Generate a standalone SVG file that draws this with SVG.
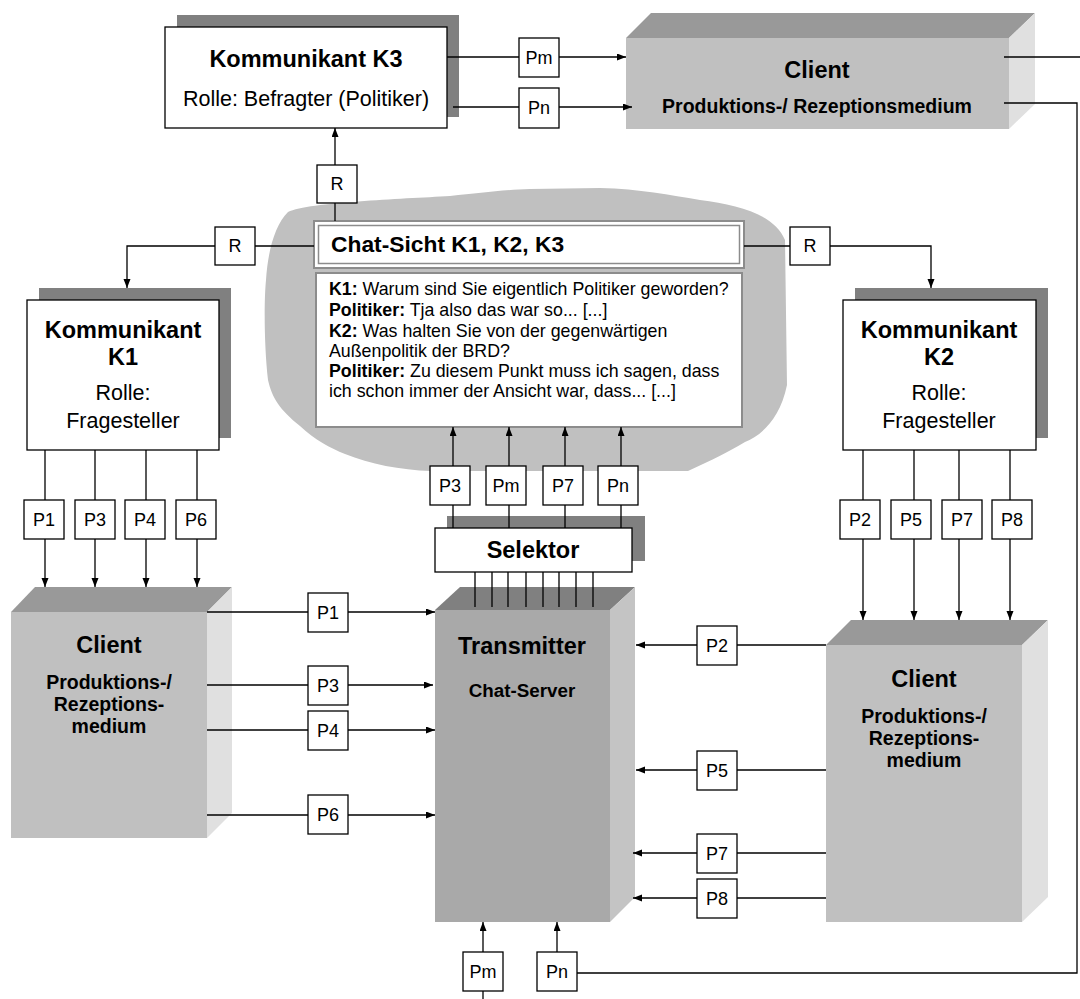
<svg xmlns="http://www.w3.org/2000/svg" width="1080" height="999" viewBox="0 0 1080 999">
<defs>
<marker id="ah" markerUnits="userSpaceOnUse" markerWidth="10" markerHeight="8" refX="9" refY="3.5" orient="auto">
<path d="M0,0 L9,3.5 L0,7 z" fill="#000"/>
</marker>
<style>
text{font-family:"Liberation Sans",Arial,sans-serif;fill:#000}
.box{fill:#fff;stroke:#000;stroke-width:1.3}
.shadow{fill:#808080}
.ln{stroke:#000;stroke-width:1.3;fill:none}
.arr{marker-end:url(#ah)}
.tb{font-size:23.5px;font-weight:bold;text-anchor:middle}
.tr{font-size:21.5px;text-anchor:middle}
.ts{font-size:19.5px;font-weight:bold;text-anchor:middle}
.tp{font-size:18px;text-anchor:middle}
.tc{font-size:17.8px}
.cfront{fill:#c0c0c0}.ctop{fill:#999999}.cside{fill:#e0e0e0}
.tfront{fill:#a9a9a9}.ttop{fill:#808080}.tside{fill:#c4c4c4}
</style>
</defs>
<rect width="1080" height="999" fill="#fff"/>

<g id="cloud">
<path d="M288,212 C310,202 400,199 450,196 C480,193 500,190 530,189 L600,188 C640,189 670,195 700,200 C740,205 775,215 785,240 L787,385 C780,420 760,436 745,442 C728,452 712,460 688,471 L431,471 C400,470 370,464 345,454 C330,448 315,440 300,426 C280,410 272,398 268,380 C264,345 264,300 266,280 C268,250 275,225 288,212 Z" fill="#c0c0c0"/>
</g>

<g id="K3">
<rect class="shadow" x="177" y="15" width="282" height="102"/>
<rect class="box" x="165" y="27" width="282" height="101"/>
<text class="tb" x="306" y="67">Kommunikant K3</text>
<text class="tr" x="306" y="106">Rolle: Befragter (Politiker)</text>
</g>

<g id="clientTop">
<polygon class="ctop" points="626,38 651,13 1035,13 1009,38"/>
<polygon class="cside" points="1009,38 1035,13 1035,104 1009,129"/>
<rect class="cfront" x="626" y="38" width="383" height="91"/>
<text class="tb" x="817" y="78">Client</text>
<text class="ts" x="817" y="113">Produktions-/ Rezeptionsmedium</text>
</g>

<g id="chatTitle">
<rect x="314" y="221" width="430" height="47" fill="#fff" stroke="#8c8c8c" stroke-width="2"/>
<rect x="318.5" y="225.5" width="421" height="38" fill="none" stroke="#8c8c8c" stroke-width="1.5"/>
<text x="331" y="252" font-size="22.8" font-weight="bold">Chat-Sicht K1, K2, K3</text>
</g>

<g id="chatText">
<rect x="316" y="273" width="426" height="154" fill="#fff" stroke="#8c8c8c" stroke-width="2"/>
<text class="tc" x="329" y="295"><tspan font-weight="bold">K1:</tspan> Warum sind Sie eigentlich Politiker geworden?</text>
<text class="tc" x="329" y="316"><tspan font-weight="bold">Politiker:</tspan> Tja also das war so... [...]</text>
<text class="tc" x="329" y="337"><tspan font-weight="bold">K2:</tspan> Was halten Sie von der gegenwärtigen</text>
<text class="tc" x="329" y="357">Außenpolitik der BRD?</text>
<text class="tc" x="329" y="377"><tspan font-weight="bold">Politiker:</tspan> Zu diesem Punkt muss ich sagen, dass</text>
<text class="tc" x="329" y="397">ich schon immer der Ansicht war, dass... [...]</text>
</g>

<g id="K1">
<rect class="shadow" x="39" y="288" width="192" height="150"/>
<rect class="box" x="27" y="300" width="192" height="150"/>
<text class="tb" x="123" y="338">Kommunikant</text>
<text class="tb" x="123" y="365">K1</text>
<text class="tr" x="123" y="400">Rolle:</text>
<text class="tr" x="123" y="428">Fragesteller</text>
</g>

<g id="K2">
<rect class="shadow" x="855" y="288" width="193" height="150"/>
<rect class="box" x="843" y="300" width="193" height="150"/>
<text class="tb" x="939" y="338">Kommunikant</text>
<text class="tb" x="939" y="365">K2</text>
<text class="tr" x="939" y="400">Rolle:</text>
<text class="tr" x="939" y="428">Fragesteller</text>
</g>

<g id="selector">
<rect class="shadow" x="447" y="516" width="198" height="45"/>
<rect class="box" x="435" y="528" width="197" height="44"/>
<text class="tb" x="533" y="558">Selektor</text>
</g>

<g id="clientLeft">
<polygon class="ctop" points="11,612 35,587 232,587 207,612"/>
<polygon class="cside" points="207,612 232,587 232,813 207,838"/>
<rect class="cfront" x="11" y="612" width="196" height="226"/>
<text class="tb" x="109" y="653">Client</text>
<text class="ts" x="109" y="689">Produktions-/</text>
<text class="ts" x="109" y="711">Rezeptions-</text>
<text class="ts" x="109" y="733">medium</text>
</g>

<g id="transmitter">
<polygon class="ttop" points="435,610 460,587 635,587 610,610"/>
<polygon class="tside" points="610,610 635,587 635,897 610,922"/>
<rect class="tfront" x="435" y="610" width="175" height="312"/>
<text class="tb" x="522" y="654">Transmitter</text>
<text x="522" y="697" font-size="18.8" font-weight="bold" text-anchor="middle">Chat-Server</text>
</g>

<g id="clientRight">
<polygon class="ctop" points="826,645 851,620 1048,620 1022,645"/>
<polygon class="cside" points="1022,645 1048,620 1048,897 1022,922"/>
<rect class="cfront" x="826" y="645" width="196" height="277"/>
<text class="tb" x="924" y="687">Client</text>
<text class="ts" x="924" y="723">Produktions-/</text>
<text class="ts" x="924" y="745">Rezeptions-</text>
<text class="ts" x="924" y="767">medium</text>
</g>

<g id="connectors">
<path class="ln arr" d="M447,57 H626"/>
<path class="ln arr" d="M453,107 H632"/>
<path class="ln" d="M1004,57 H1080"/>
<path class="ln" d="M1004,103 H1077 V973 H577"/>
<path class="ln arr" d="M557,952 V922"/>
<path class="ln arr" d="M483,999 V922"/>
<path class="ln arr" d="M335,221 V128"/>
<path class="ln arr" d="M314,246 H127 V288"/>
<path class="ln arr" d="M744,246 H931 V288"/>
<path class="ln arr" d="M453,528 V427"/>
<path class="ln arr" d="M509,528 V427"/>
<path class="ln arr" d="M565,528 V427"/>
<path class="ln arr" d="M621,528 V427"/>
<path class="ln" d="M475,572 V607 M492,572 V607 M508,572 V607 M526,572 V607 M543,572 V607 M559,572 V607 M576,572 V607 M593,572 V607"/>
<path class="ln arr" d="M45,450 V587"/>
<path class="ln arr" d="M95,450 V587"/>
<path class="ln arr" d="M146,450 V587"/>
<path class="ln arr" d="M197,450 V587"/>
<path class="ln arr" d="M863,450 V620"/>
<path class="ln arr" d="M914,450 V620"/>
<path class="ln arr" d="M959,450 V620"/>
<path class="ln arr" d="M1010,450 V620"/>
<path class="ln arr" d="M207,612 H435"/>
<path class="ln arr" d="M207,685 H433"/>
<path class="ln arr" d="M207,730 H435"/>
<path class="ln arr" d="M207,815 H435"/>
<path class="ln arr" d="M826,645 H636"/>
<path class="ln arr" d="M826,770 H636"/>
<path class="ln arr" d="M826,853 H633"/>
<path class="ln arr" d="M826,898 H633"/>
</g>

<g id="labels">
<rect class="box" x="519" y="38" width="40" height="39"/><text class="tp" x="539" y="64">Pm</text>
<rect class="box" x="519" y="88" width="40" height="40"/><text class="tp" x="539" y="114">Pn</text>
<rect class="box" x="317" y="165" width="40" height="38"/><text class="tp" x="337" y="190">R</text>
<rect class="box" x="215" y="227" width="40" height="38"/><text class="tp" x="235" y="252">R</text>
<rect class="box" x="790" y="227" width="40" height="38"/><text class="tp" x="810" y="252">R</text>
<rect class="box" x="430" y="466" width="40" height="39"/><text class="tp" x="450" y="492">P3</text>
<rect class="box" x="486" y="466" width="40" height="39"/><text class="tp" x="506" y="492">Pm</text>
<rect class="box" x="543" y="466" width="40" height="39"/><text class="tp" x="563" y="492">P7</text>
<rect class="box" x="598" y="466" width="40" height="39"/><text class="tp" x="618" y="492">Pn</text>
<rect class="box" x="24" y="500" width="40" height="39"/><text class="tp" x="44" y="526">P1</text>
<rect class="box" x="75" y="500" width="40" height="39"/><text class="tp" x="95" y="526">P3</text>
<rect class="box" x="125" y="500" width="40" height="39"/><text class="tp" x="145" y="526">P4</text>
<rect class="box" x="176" y="500" width="40" height="39"/><text class="tp" x="196" y="526">P6</text>
<rect class="box" x="840" y="500" width="40" height="39"/><text class="tp" x="860" y="526">P2</text>
<rect class="box" x="891" y="500" width="40" height="39"/><text class="tp" x="911" y="526">P5</text>
<rect class="box" x="942" y="500" width="40" height="39"/><text class="tp" x="962" y="526">P7</text>
<rect class="box" x="992" y="500" width="40" height="39"/><text class="tp" x="1012" y="526">P8</text>
<rect class="box" x="308" y="593" width="40" height="39"/><text class="tp" x="328" y="619">P1</text>
<rect class="box" x="308" y="666" width="40" height="39"/><text class="tp" x="328" y="692">P3</text>
<rect class="box" x="308" y="711" width="40" height="39"/><text class="tp" x="328" y="737">P4</text>
<rect class="box" x="308" y="795" width="40" height="39"/><text class="tp" x="328" y="821">P6</text>
<rect class="box" x="697" y="626" width="40" height="39"/><text class="tp" x="717" y="652">P2</text>
<rect class="box" x="697" y="751" width="40" height="39"/><text class="tp" x="717" y="777">P5</text>
<rect class="box" x="697" y="834" width="40" height="39"/><text class="tp" x="717" y="860">P7</text>
<rect class="box" x="697" y="879" width="40" height="39"/><text class="tp" x="717" y="905">P8</text>
<rect class="box" x="463" y="952" width="40" height="39"/><text class="tp" x="483" y="978">Pm</text>
<rect class="box" x="537" y="952" width="40" height="39"/><text class="tp" x="557" y="978">Pn</text>
</g>
</svg>
